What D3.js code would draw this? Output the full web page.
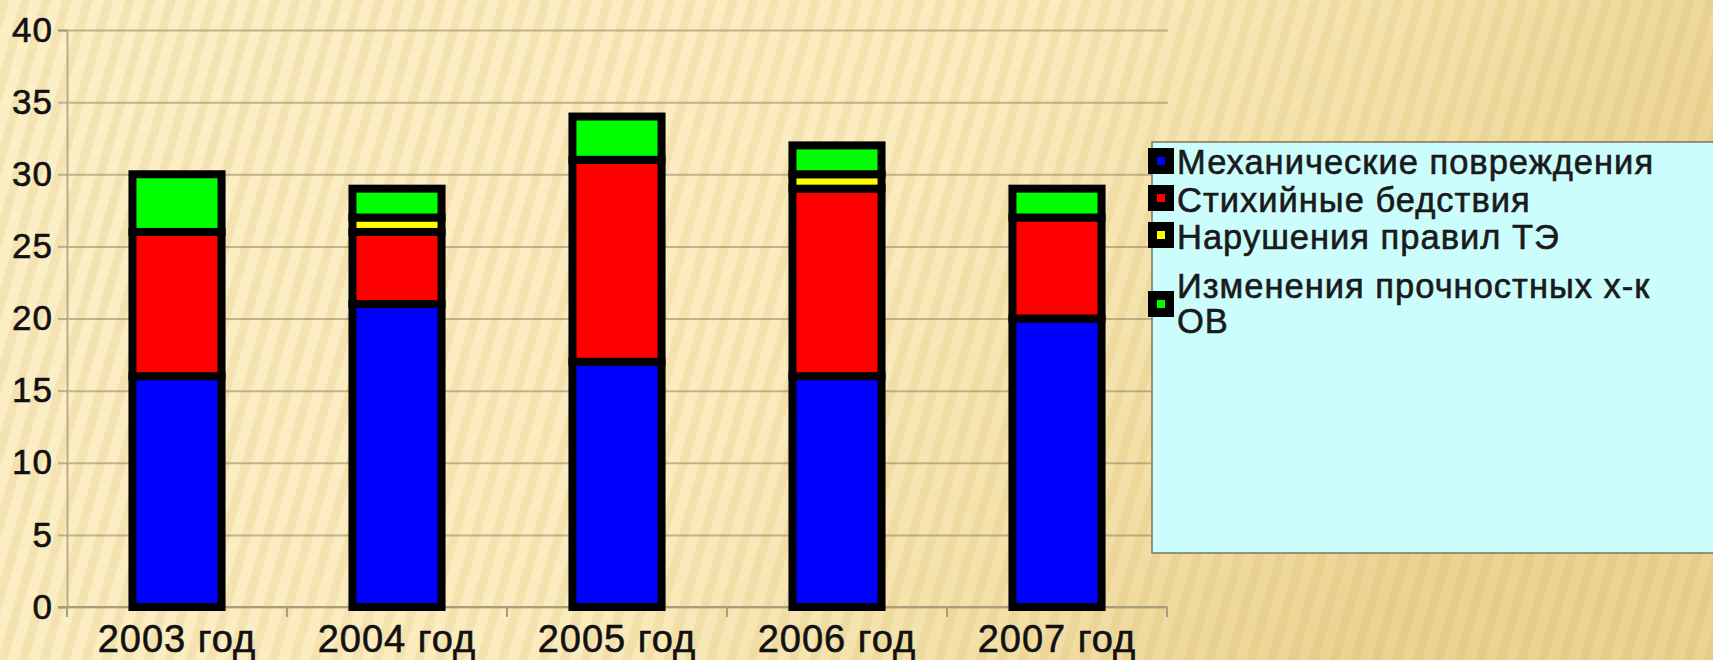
<!DOCTYPE html>
<html>
<head>
<meta charset="utf-8">
<script src="https://cdn.jsdelivr.net/npm/d3@7"></script>
<style>
  html, body { margin: 0; padding: 0; background: #f6e4b0; }
  svg { display: block; }
  text { font-family: "Liberation Sans", Arial, sans-serif; }
</style>
</head>
<body>
<svg id="chart" width="1713" height="660"></svg>
<script>
// ---- data ----
const categories = ["2003 год", "2004 год", "2005 год", "2006 год", "2007 год"];
const seriesNames = ["Механические повреждения", "Стихийные бедствия", "Нарушения правил ТЭ", "Изменения прочностных х-к ОВ"];
const mechanical = [16, 21, 17, 16, 20];
const natural = [10, 5, 14, 13, 7];
const rulesViolation = [0, 1, 0, 1, 0];
const strengthChange = [4, 2, 3, 2, 2];
const yTicks = [0, 5, 10, 15, 20, 25, 30, 35, 40];
const seriesColors = ["#0000ff", "#ff0000", "#ffff00", "#00ff00"];
const legendLines = [["Механические повреждения"], ["Стихийные бедствия"], ["Нарушения правил ТЭ"], ["Изменения прочностных х-к", "ОВ"]];

const seriesValues = [mechanical, natural, rulesViolation, strengthChange];
const table = categories.map((c, i) => {
  const row = { cat: c };
  seriesNames.forEach((s, k) => row[s] = seriesValues[k][i]);
  return row;
});

const svg = d3.select("#chart");
const W = 1713, H = 660;

// ---- background ----
const defs = svg.append("defs");
const bg = defs.append("linearGradient").attr("id", "bgGrad")
  .attr("x1", "0").attr("y1", "0").attr("x2", "1").attr("y2", "0.3");
bg.append("stop").attr("offset", "0%").attr("stop-color", "#fcefc6");
bg.append("stop").attr("offset", "55%").attr("stop-color", "#fbecbf");
bg.append("stop").attr("offset", "80%").attr("stop-color", "#f3e0a8");
bg.append("stop").attr("offset", "100%").attr("stop-color", "#ead393");
const pat = defs.append("pattern").attr("id", "stripes")
  .attr("patternUnits", "userSpaceOnUse").attr("width", 20).attr("height", 20)
  .attr("patternTransform", "rotate(16)");
pat.append("rect").attr("width", 9).attr("height", 20).attr("fill", "#c9a64a").attr("opacity", 0.14);

svg.append("rect").attr("width", W).attr("height", H).attr("fill", "url(#bgGrad)");
svg.append("rect").attr("width", W).attr("height", H).attr("fill", "url(#stripes)");

// ---- scales ----
const x = d3.scaleBand().domain(categories).range([67, 1167]);
const y = d3.scaleLinear().domain([0, 40]).range([607, 30]);
const barW = x.bandwidth() * 0.405;

const textStyle = sel => sel
  .attr("font-family", "'Liberation Sans', Arial, sans-serif")
  .attr("fill", "#111").attr("stroke", "#111").attr("stroke-width", 0.6);

// gridlines
svg.append("g")
  .attr("transform", "translate(67,0)")
  .call(d3.axisLeft(y).tickValues(yTicks).tickSize(-1101).tickFormat(""))
  .call(g => g.select(".domain").remove())
  .call(g => g.selectAll("line").attr("stroke", "#8f8565").attr("stroke-opacity", 0.55).attr("stroke-width", 2));

// y axis
svg.append("g")
  .attr("transform", "translate(67,0)")
  .call(d3.axisLeft(y).tickValues(yTicks).tickSize(9).tickPadding(5))
  .call(g => g.select(".domain").attr("stroke", "#b9ac86").attr("stroke-width", 2))
  .call(g => g.selectAll("line").attr("stroke", "#8f8565").attr("stroke-opacity", 0.55).attr("stroke-width", 2))
  .call(g => g.selectAll("text").attr("font-size", 35).attr("letter-spacing", 1).call(textStyle));

// x axis
const xAxis = d3.axisBottom(x).tickSize(0).tickPadding(18);
const xg = svg.append("g").attr("transform", "translate(0,607)").call(xAxis);
xg.select(".domain").attr("d", "M58,0H1167").attr("stroke", "#a89e7c").attr("stroke-width", 2);
xg.selectAll("text").attr("font-size", 38).attr("letter-spacing", 1).attr("dy", "0.71em").call(textStyle);
// boundary ticks
svg.append("g").selectAll("line")
  .data(categories.map((c) => x(c)).concat([x(categories[categories.length - 1]) + x.bandwidth()]))
  .join("line")
  .attr("x1", d => d).attr("x2", d => d).attr("y1", 607).attr("y2", 617)
  .attr("stroke", "#a89e7c").attr("stroke-width", 2);

// ---- stacked bars ----
const stack = d3.stack().keys(seriesNames)(table);
const color = d3.scaleOrdinal().domain(seriesNames).range(seriesColors);

svg.append("g").selectAll("g")
  .data(stack)
  .join("g")
  .attr("fill", d => color(d.key))
  .selectAll("rect")
  .data(d => d.filter(s => s[1] - s[0] > 0))
  .join("rect")
  .attr("x", d => x(d.data.cat) + (x.bandwidth() - barW) / 2)
  .attr("width", barW)
  .attr("y", d => y(d[1]))
  .attr("height", d => y(d[0]) - y(d[1]))
  .attr("stroke", "#000")
  .attr("stroke-width", 8);

// ---- legend ----
const lg = svg.append("g");
lg.append("rect").attr("x", 1152).attr("y", 142).attr("width", 600).attr("height", 411)
  .attr("fill", "#ccfdfd").attr("stroke", "#7c7558").attr("stroke-width", 1.5);

const baselines = [[174], [212], [249], [298, 333]];
const keyTop = [148, 185, 222, 291];
seriesNames.forEach((s, i) => {
  lg.append("rect").attr("x", 1148).attr("y", keyTop[i]).attr("width", 26).attr("height", 26).attr("fill", "#000");
  lg.append("rect").attr("x", 1157).attr("y", keyTop[i] + 9).attr("width", 8).attr("height", 8).attr("fill", color(s));
  legendLines[i].forEach((ln, j) => {
    lg.append("text").attr("x", 1177).attr("y", baselines[i][j])
      .attr("font-size", 34.5).attr("letter-spacing", 1).call(textStyle)
      .attr("fill", "#1a1a1a").attr("stroke", "#1a1a1a").text(ln);
  });
});
</script>
</body>
</html>
